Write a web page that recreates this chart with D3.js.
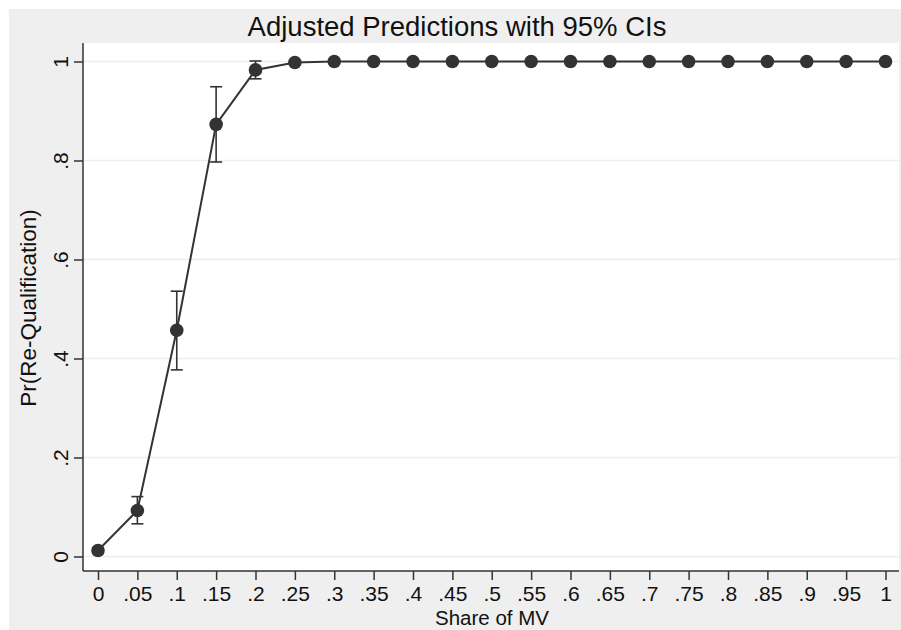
<!DOCTYPE html>
<html>
<head>
<meta charset="utf-8">
<script src="https://cdn.jsdelivr.net/npm/d3@7"></script>
<style>
  body { margin: 0; background: #fff; }
  svg { display: block; font-family: "Liberation Sans", Arial, Helvetica, sans-serif; }
</style>
</head>
<body>
<svg id="chart" width="901" height="630"></svg>
<script>
// Share of MV values and predicted probabilities
const shares = [0, .05, .1, .15, .2, .25, .3, .35, .4, .45, .5, .55, .6, .65, .7, .75, .8, .85, .9, .95, 1];
const predicted = [0.012, 0.093, 0.457, 0.873, 0.983, 0.998, 1, 1, 1, 1, 1, 1, 1, 1, 1, 1, 1, 1, 1, 1, 1];
const ciLow = [0.006, 0.066, 0.377, 0.797, 0.965, 0.995, 1, 1, 1, 1, 1, 1, 1, 1, 1, 1, 1, 1, 1, 1, 1];
const ciHigh = [0.018, 0.121, 0.536, 0.949, 1.001, 1.001, 1, 1, 1, 1, 1, 1, 1, 1, 1, 1, 1, 1, 1, 1, 1];
const xTickLabels = ['0', '.05', '.1', '.15', '.2', '.25', '.3', '.35', '.4', '.45', '.5', '.55', '.6', '.65', '.7', '.75', '.8', '.85', '.9', '.95', '1'];
const yTicks = [0, .2, .4, .6, .8, 1];
const yTickLabels = ['0', '.2', '.4', '.6', '.8', '1'];

const data = shares.map((s, i) => ({ x: s, y: predicted[i], lo: ciLow[i], hi: ciHigh[i] }));

const svg = d3.select('#chart');
const dark = '#333';
const font = '"Liberation Sans", Arial, Helvetica, sans-serif';

// background panels
svg.append('rect').attr('x', 9).attr('y', 9).attr('width', 892).attr('height', 621).attr('fill', '#efefef');
const plotL = 83, plotR = 899, plotT = 43, plotB = 571;
svg.append('rect').attr('x', plotL).attr('y', plotT).attr('width', plotR - plotL).attr('height', plotB - plotT).attr('fill', '#fff');

const x = d3.scaleLinear().domain([0, 1]).range([98, 885.5]);
const y = d3.scaleLinear().domain([0, 1]).range([556.5, 61.5]);

// grid lines
svg.append('g').selectAll('line').data(yTicks).join('line')
  .attr('x1', plotL).attr('x2', plotR)
  .attr('y1', d => y(d)).attr('y2', d => y(d))
  .attr('stroke', '#e8eff1').attr('stroke-width', 1.5);

// y axis
const yAxis = svg.append('g')
  .attr('transform', `translate(${plotL},0)`)
  .call(d3.axisLeft(y).tickValues(yTicks).tickFormat((d, i) => yTickLabels[i]).tickSize(9).tickPadding(6).tickSizeOuter(0))
  .attr('font-family', font);
yAxis.select('.domain').attr('d', `M0,${plotT}V${plotB}`).attr('stroke', dark).attr('stroke-width', 1.5);
yAxis.selectAll('.tick line').attr('stroke', dark).attr('stroke-width', 1.5);
yAxis.selectAll('.tick text')
  .attr('font-size', 21).attr('fill', '#111')
  .attr('x', 0).attr('dy', 0)
  .attr('text-anchor', 'middle')
  .attr('transform', 'translate(-15,0) rotate(-90)');

// x axis
const xAxis = svg.append('g')
  .attr('transform', `translate(0,${plotB})`)
  .call(d3.axisBottom(x).tickValues(shares).tickFormat((d, i) => xTickLabels[i]).tickSize(9).tickPadding(6).tickSizeOuter(0))
  .attr('font-family', font);
xAxis.select('.domain').attr('d', `M${plotL},0H${plotR}`).attr('stroke', dark).attr('stroke-width', 1.5);
xAxis.selectAll('.tick line').attr('stroke', dark).attr('stroke-width', 1.5);
xAxis.selectAll('.tick text').attr('font-size', 21).attr('fill', '#111').attr('dy', '0.73em');

// titles
svg.append('text').attr('x', 457).attr('y', 36).attr('text-anchor', 'middle')
  .attr('font-size', 27.5).attr('fill', '#111').text('Adjusted Predictions with 95% CIs');
svg.append('text').attr('x', 492).attr('y', 625).attr('text-anchor', 'middle')
  .attr('font-size', 20.5).attr('fill', '#111').text('Share of MV');
svg.append('text').attr('transform', 'translate(36,308) rotate(-90)').attr('text-anchor', 'middle')
  .attr('font-size', 22.5).attr('fill', '#111').text('Pr(Re-Qualification)');

// confidence intervals
const ci = svg.append('g').attr('stroke', dark).attr('stroke-width', 1.6);
const ciData = data.filter(d => y(d.lo) - y(d.hi) > 2);
ci.selectAll('.stem').data(ciData).join('line').attr('class', 'stem')
  .attr('x1', d => x(d.x)).attr('x2', d => x(d.x))
  .attr('y1', d => y(d.lo)).attr('y2', d => y(d.hi));
ci.selectAll('.capHi').data(ciData).join('line').attr('class', 'capHi')
  .attr('x1', d => x(d.x) - 6).attr('x2', d => x(d.x) + 6)
  .attr('y1', d => y(d.hi)).attr('y2', d => y(d.hi));
ci.selectAll('.capLo').data(ciData).join('line').attr('class', 'capLo')
  .attr('x1', d => x(d.x) - 6).attr('x2', d => x(d.x) + 6)
  .attr('y1', d => y(d.lo)).attr('y2', d => y(d.lo));

// line + markers
svg.append('path').datum(data)
  .attr('d', d3.line().x(d => x(d.x)).y(d => y(d.y)))
  .attr('fill', 'none').attr('stroke', dark).attr('stroke-width', 2);
svg.append('g').selectAll('circle').data(data).join('circle')
  .attr('cx', d => x(d.x)).attr('cy', d => y(d.y)).attr('r', 6.8)
  .attr('fill', dark);
</script>
</body>
</html>
